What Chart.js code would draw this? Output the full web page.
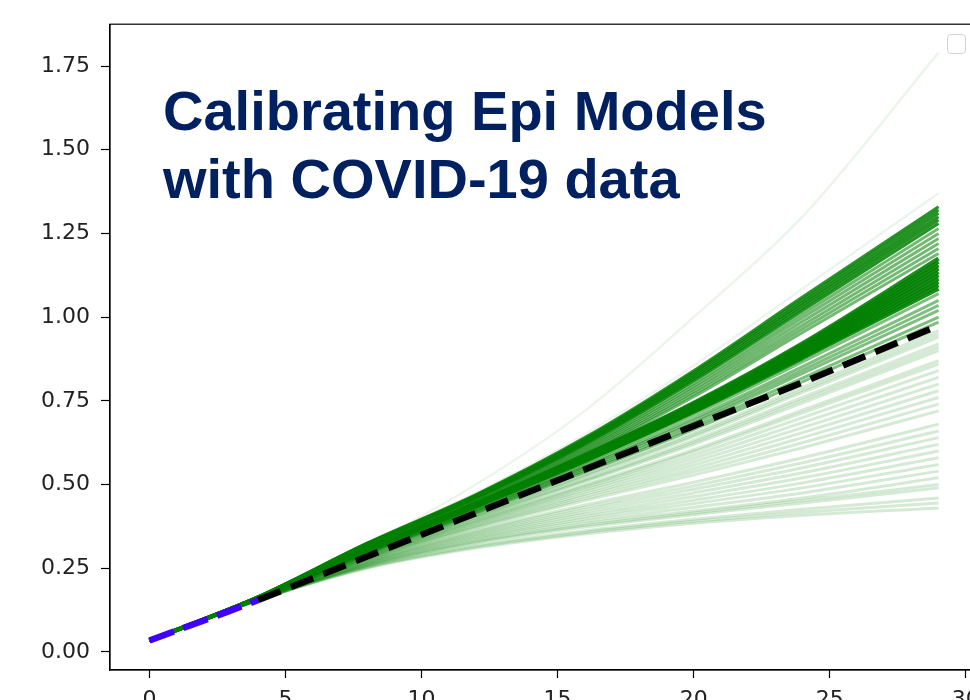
<!DOCTYPE html>
<html>
<head>
<meta charset="utf-8">
<script src="https://cdn.jsdelivr.net/npm/chart.js@4/dist/chart.umd.min.js"></script>
<style>
    html, body { margin: 0; padding: 0; background: #fff; overflow: hidden; }
    #wrap { position: relative; width: 970px; height: 700px; overflow: hidden; }
    #chart { position: absolute; left: 0; top: 0; }
    #title {
        position: absolute; left: 163px; top: 77px;
        font: bold 56px "Liberation Sans", Arial, sans-serif;
        line-height: 68px; color: #002060; white-space: nowrap;
    }
    #legend-box {
        position: absolute; left: 947px; top: 34px; width: 17px; height: 18px;
        border: 1.5px solid #d4d4d4; border-radius: 4px; background: #fff;
    }
</style>
</head>
<body>
<div id="wrap">
    <canvas id="chart" width="1000" height="760"></canvas>
    <div id="title">Calibrating Epi Models<br>with COVID-19 data</div>
    <div id="legend-box"></div>
</div>
<script>
// ─── データ ───
// 各シミュレーション軌道は days の各日での値
const days = [0, 4, 8, 12, 16, 20, 24, 29];

// 上側の濃い帯（上端）
const topEdge = [
    [0.034, 0.165, 0.325, 0.470, 0.640, 0.840, 1.060, 1.330],
    [0.034, 0.165, 0.324, 0.468, 0.636, 0.834, 1.052, 1.320],
    [0.034, 0.165, 0.323, 0.466, 0.632, 0.828, 1.044, 1.310],
    [0.034, 0.164, 0.322, 0.464, 0.628, 0.822, 1.036, 1.300],
    [0.034, 0.164, 0.321, 0.462, 0.624, 0.816, 1.028, 1.290],
    [0.034, 0.164, 0.320, 0.460, 0.620, 0.810, 1.020, 1.280],
];
// 上側の帯（下寄り）
const topLower = [
    [0.034, 0.164, 0.318, 0.457, 0.615, 0.802, 1.009, 1.265],
    [0.034, 0.163, 0.316, 0.454, 0.610, 0.794, 0.998, 1.250],
    [0.034, 0.163, 0.314, 0.451, 0.605, 0.786, 0.987, 1.235],
    [0.034, 0.163, 0.312, 0.448, 0.600, 0.778, 0.976, 1.220],
    [0.034, 0.163, 0.310, 0.445, 0.595, 0.770, 0.965, 1.205],
    [0.034, 0.162, 0.308, 0.442, 0.590, 0.762, 0.954, 1.190],
];
// 中央の最も濃い帯
const coreBand = [
    [0.034, 0.162, 0.307, 0.444, 0.588, 0.744, 0.922, 1.175],
    [0.034, 0.162, 0.307, 0.443, 0.586, 0.741, 0.917, 1.165],
    [0.034, 0.162, 0.306, 0.442, 0.584, 0.738, 0.912, 1.155],
    [0.034, 0.162, 0.306, 0.441, 0.582, 0.735, 0.907, 1.145],
    [0.034, 0.162, 0.305, 0.440, 0.580, 0.732, 0.902, 1.135],
    [0.034, 0.162, 0.305, 0.439, 0.578, 0.729, 0.897, 1.125],
    [0.034, 0.161, 0.304, 0.438, 0.576, 0.726, 0.892, 1.115],
    [0.034, 0.161, 0.304, 0.437, 0.574, 0.723, 0.887, 1.105],
    [0.034, 0.161, 0.303, 0.436, 0.572, 0.720, 0.882, 1.095],
    [0.034, 0.161, 0.303, 0.435, 0.570, 0.717, 0.877, 1.085],
];
// 中間
const midBand = [
    [0.034, 0.161, 0.302, 0.432, 0.565, 0.708, 0.866, 1.070],
    [0.034, 0.160, 0.300, 0.428, 0.558, 0.698, 0.852, 1.050],
    [0.034, 0.160, 0.298, 0.425, 0.553, 0.690, 0.842, 1.035],
    [0.034, 0.160, 0.297, 0.422, 0.548, 0.683, 0.832, 1.020],
    [0.034, 0.160, 0.295, 0.418, 0.542, 0.673, 0.818, 1.000],
    [0.034, 0.159, 0.293, 0.415, 0.537, 0.665, 0.807, 0.985],
];
// 下側に広がる薄い軌道
const lowFan = [
    [0.034, 0.159, 0.291, 0.411, 0.530, 0.654, 0.790, 0.960],
    [0.034, 0.159, 0.290, 0.409, 0.527, 0.648, 0.782, 0.950],
    [0.034, 0.159, 0.289, 0.407, 0.523, 0.643, 0.775, 0.940],
    [0.034, 0.159, 0.288, 0.404, 0.516, 0.632, 0.760, 0.920],
    [0.034, 0.159, 0.287, 0.402, 0.512, 0.626, 0.752, 0.910],
    [0.034, 0.158, 0.286, 0.400, 0.509, 0.620, 0.744, 0.900],
    [0.034, 0.158, 0.284, 0.395, 0.499, 0.604, 0.722, 0.870],
    [0.034, 0.158, 0.283, 0.393, 0.495, 0.598, 0.714, 0.860],
    [0.034, 0.158, 0.282, 0.390, 0.490, 0.588, 0.700, 0.840],
    [0.034, 0.158, 0.281, 0.387, 0.484, 0.578, 0.685, 0.820],
    [0.034, 0.158, 0.280, 0.384, 0.478, 0.568, 0.670, 0.800],
    [0.034, 0.157, 0.278, 0.380, 0.471, 0.558, 0.655, 0.780],
    [0.034, 0.157, 0.277, 0.377, 0.465, 0.548, 0.640, 0.760],
    [0.034, 0.157, 0.275, 0.373, 0.458, 0.538, 0.625, 0.740],
    [0.034, 0.157, 0.274, 0.370, 0.452, 0.528, 0.610, 0.720],
    [0.034, 0.157, 0.271, 0.363, 0.439, 0.507, 0.580, 0.680],
    [0.034, 0.157, 0.270, 0.359, 0.432, 0.496, 0.565, 0.660],
    [0.034, 0.156, 0.268, 0.355, 0.425, 0.486, 0.550, 0.640],
    [0.034, 0.156, 0.267, 0.351, 0.418, 0.475, 0.535, 0.620],
    [0.034, 0.156, 0.265, 0.347, 0.411, 0.464, 0.520, 0.600],
    [0.034, 0.156, 0.263, 0.343, 0.404, 0.453, 0.505, 0.580],
    [0.034, 0.156, 0.262, 0.339, 0.397, 0.443, 0.490, 0.560],
    [0.034, 0.155, 0.260, 0.335, 0.390, 0.432, 0.475, 0.540],
    [0.034, 0.155, 0.259, 0.331, 0.383, 0.421, 0.460, 0.520],
    [0.034, 0.155, 0.257, 0.328, 0.378, 0.415, 0.452, 0.500],
    [0.034, 0.155, 0.256, 0.325, 0.373, 0.410, 0.445, 0.490],
    [0.034, 0.155, 0.253, 0.318, 0.362, 0.396, 0.426, 0.460],
    [0.034, 0.155, 0.252, 0.314, 0.357, 0.390, 0.417, 0.445],
    [0.034, 0.155, 0.250, 0.310, 0.352, 0.384, 0.408, 0.430],
];
// 外れた軌道
const outliers = [
    [0.034, 0.165, 0.320, 0.500, 0.720, 1.000, 1.300, 1.790],
    [0.034, 0.165, 0.327, 0.475, 0.650, 0.855, 1.085, 1.370],
];

// 観測データ（青）と当てはめ（黒の破線）
const obsDays  = [0, 1, 2, 3, 4];
const observed = [0.034, 0.064, 0.094, 0.124, 0.155];
const fitDays  = [4, 8, 12, 16, 20, 24, 29];
const fitted   = [0.155, 0.285, 0.415, 0.545, 0.675, 0.805, 0.975];

// 軸
const xTicks = [0, 5, 10, 15, 20, 25, 30];
const yTicks = [0, 0.25, 0.5, 0.75, 1.0, 1.25, 1.5, 1.75];

// ─── データセットの組み立て ───
const toPoints = (xs, ys) => xs.map((x, i) => ({ x, y: ys[i] }));

const groups = [
    { rows: lowFan,   color: 'rgba(0,128,0,0.17)', width: 3 },
    { rows: midBand,  color: 'rgba(0,128,0,0.5)',  width: 3 },
    { rows: topLower, color: 'rgba(0,128,0,0.55)', width: 3 },
    { rows: topEdge,  color: 'rgba(0,128,0,0.85)', width: 3 },
    { rows: coreBand, color: 'rgba(0,128,0,0.9)',  width: 4 },
    { rows: outliers, color: 'rgba(0,128,0,0.08)', width: 2.5 },
];

const datasets = [];
groups.forEach(g => {
    g.rows.forEach(row => {
        datasets.push({
            data: toPoints(days, row),
            borderColor: g.color,
            borderWidth: g.width,
            cubicInterpolationMode: 'monotone',
            pointRadius: 0,
            order: 2,
        });
    });
});
datasets.push({
    data: toPoints(fitDays, fitted),
    borderColor: '#000',
    borderWidth: 6.5,
    borderDash: [24, 11],
    pointRadius: 0,
    order: 0,
});
datasets.push({
    data: toPoints(obsDays, observed),
    borderColor: 'rgb(64,0,255)',
    borderWidth: 6.5,
    borderDash: [26, 10],
    pointRadius: 0,
    order: 0,
});

// 上と右の枠線
const frame = {
    id: 'frame',
    afterDraw(chart) {
        const { ctx, chartArea: a } = chart;
        ctx.save();
        ctx.strokeStyle = '#000';
        ctx.lineWidth = 1.2;
        ctx.strokeRect(a.left, a.top, a.right - a.left, a.bottom - a.top);
        ctx.restore();
    },
};

const tickFont = { family: '"DejaVu Sans", sans-serif', size: 22 };

new Chart(document.getElementById('chart'), {
    type: 'line',
    data: { datasets },
    options: {
        responsive: false,
        animation: false,
        layout: { padding: { top: 23, right: 22 } },
        plugins: { legend: { display: false }, tooltip: { enabled: false } },
        scales: {
            x: {
                type: 'linear', min: -1.45, max: 30.45,
                afterFit: (s) => { s.height = 90; },
                afterBuildTicks: (s) => { s.ticks = xTicks.map(v => ({ value: v })); },
                grid: { drawOnChartArea: false, tickLength: 8, tickColor: '#000', tickWidth: 1.2 },
                border: { color: '#000', width: 1.2 },
                ticks: { font: tickFont, color: '#222', padding: 9, maxRotation: 0 },
            },
            y: {
                type: 'linear', min: -0.054, max: 1.875,
                afterFit: (s) => { s.width = 110; },
                afterBuildTicks: (s) => { s.ticks = yTicks.map(v => ({ value: v })); },
                grid: { drawOnChartArea: false, tickLength: 9, tickColor: '#000', tickWidth: 1.2 },
                border: { color: '#000', width: 1.2 },
                ticks: { font: tickFont, color: '#222', padding: 11, callback: (v) => v.toFixed(2) },
            },
        },
    },
    plugins: [frame],
});
</script>
</body>
</html>
